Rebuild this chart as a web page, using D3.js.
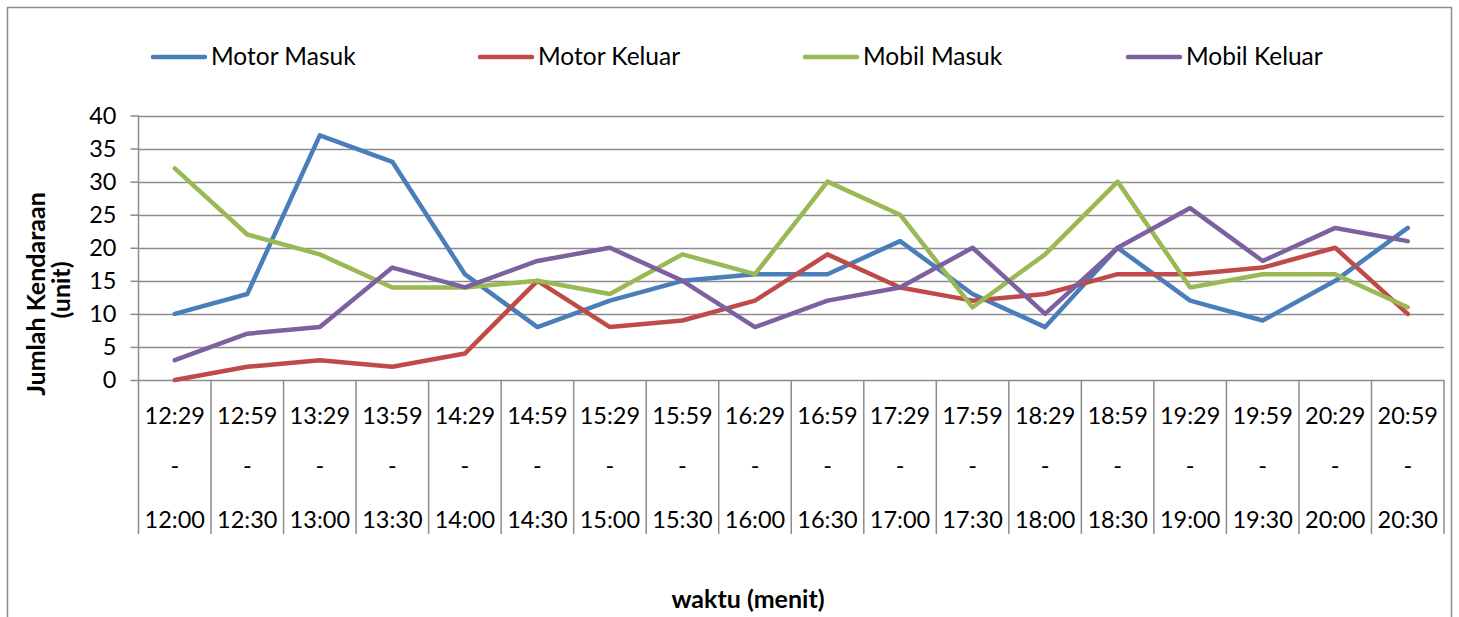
<!DOCTYPE html>
<html><head><meta charset="utf-8">
<script src="https://cdn.jsdelivr.net/npm/d3@7"></script>
<style>body{margin:0;background:#fff}svg{display:block}text{font-family:Lato,"Open Sans",sans-serif;fill:#000}</style>
</head><body><svg id="c" width="1459" height="617"></svg>
<script>
const categoriesTop = ["12:29","12:59","13:29","13:59","14:29","14:59","15:29","15:59","16:29","16:59","17:29","17:59","18:29","18:59","19:29","19:59","20:29","20:59"];
const categoriesBottom = ["12:00","12:30","13:00","13:30","14:00","14:30","15:00","15:30","16:00","16:30","17:00","17:30","18:00","18:30","19:00","19:30","20:00","20:30"];
const seriesNames = ["Motor Masuk","Motor Keluar","Mobil Masuk","Mobil Keluar"];
const motorMasuk = [10,13,37,33,16,8,12,15,16,16,21,13,8,20,12,9,15,23];
const motorKeluar = [0,2,3,2,4,15,8,9,12,19,14,12,13,16,16,17,20,10];
const mobilMasuk = [32,22,19,14,14,15,13,19,16,30,25,11,19,30,14,16,16,11];
const mobilKeluar = [3,7,8,17,14,18,20,15,8,12,14,20,10,20,26,18,23,21];
const yTicks = [0,5,10,15,20,25,30,35,40];
const colors = ["#4A7EBB","#BE4B48","#98B954","#7D60A0"];
const allSeries = [motorMasuk,motorKeluar,mobilMasuk,mobilKeluar];

const svg = d3.select("#c");
const L=138.5, R=1444, T=115.5, B=380;
const x = d3.scaleBand().domain(d3.range(categoriesTop.length)).range([L,R]);
const y = d3.scaleLinear().domain([0,40]).range([B,T]);

// outer frame
svg.append("rect").attr("x",7.5).attr("y",7.5).attr("width",1444).attr("height",620).attr("fill","#fff").attr("stroke","#8c8c8c").attr("stroke-width",1.5);

// gridlines
svg.append("g").selectAll("line").data(yTicks).join("line")
  .attr("x1",L).attr("x2",R).attr("y1",d=>Math.round(y(d))+0.5).attr("y2",d=>Math.round(y(d))+0.5)
  .attr("stroke","#8c8c8c").attr("stroke-width",1.5);

// y axis
const ya = svg.append("g").attr("transform",`translate(${L},0)`).call(d3.axisLeft(y).tickValues(yTicks).tickSize(8).tickPadding(14));
ya.select(".domain").remove();
ya.selectAll("line").attr("stroke","#8c8c8c").attr("stroke-width",1.5);
ya.selectAll("text").style("font-size","23.5px").attr("font-family","Lato");
svg.append("line").attr("x1",L).attr("x2",L).attr("y1",T).attr("y2",534).attr("stroke","#8c8c8c").attr("stroke-width",1.5);

// category separators
svg.append("g").selectAll("line").data(d3.range(1,categoriesTop.length+1)).join("line")
  .attr("x1",i=>x.step()*i+L).attr("x2",i=>x.step()*i+L).attr("y1",B).attr("y2",534)
  .attr("stroke","#8c8c8c").attr("stroke-width",1.5);

// x labels
const xl = svg.append("g").selectAll("g").data(d3.range(categoriesTop.length)).join("g")
  .attr("transform",i=>`translate(${x(i)+x.bandwidth()/2},0)`);
xl.append("text").attr("y",424).attr("text-anchor","middle").style("font-size","23.5px").text(i=>categoriesTop[i]);
xl.append("text").attr("y",474).attr("text-anchor","middle").style("font-size","23.5px").text("-");
xl.append("text").attr("y",528).attr("text-anchor","middle").style("font-size","23.5px").text(i=>categoriesBottom[i]);

// lines
const line = d3.line().x((d,i)=>x(i)+x.bandwidth()/2).y(d=>y(d));
svg.append("g").selectAll("path").data(allSeries).join("path")
  .attr("d",line).attr("fill","none").attr("stroke",(d,i)=>colors[i]).attr("stroke-width",4.5)
  .attr("stroke-linejoin","round").attr("stroke-linecap","round");

// legend
const legX = [153,480,805,1128];
const lg = svg.append("g").selectAll("g").data(seriesNames).join("g").attr("transform",(d,i)=>`translate(${legX[i]},57)`);
lg.append("line").attr("x1",0).attr("x2",52).attr("stroke",(d,i)=>colors[i]).attr("stroke-width",4.5).attr("stroke-linecap","round");
lg.append("text").attr("x",58).attr("y",8).style("font-size","24.5px").text(d=>d);

// axis titles
svg.append("text").attr("transform","translate(45,294) rotate(-90)").attr("text-anchor","middle").style("font-size","25px").style("font-weight","bold").text("Jumlah Kendaraan");
svg.append("text").attr("transform","translate(70,290) rotate(-90)").attr("text-anchor","middle").style("font-size","25px").style("font-weight","bold").text("(unit)");
svg.append("text").attr("x",748).attr("y",608).attr("text-anchor","middle").style("font-size","25px").style("font-weight","bold").text("waktu (menit)");
</script></body></html>
